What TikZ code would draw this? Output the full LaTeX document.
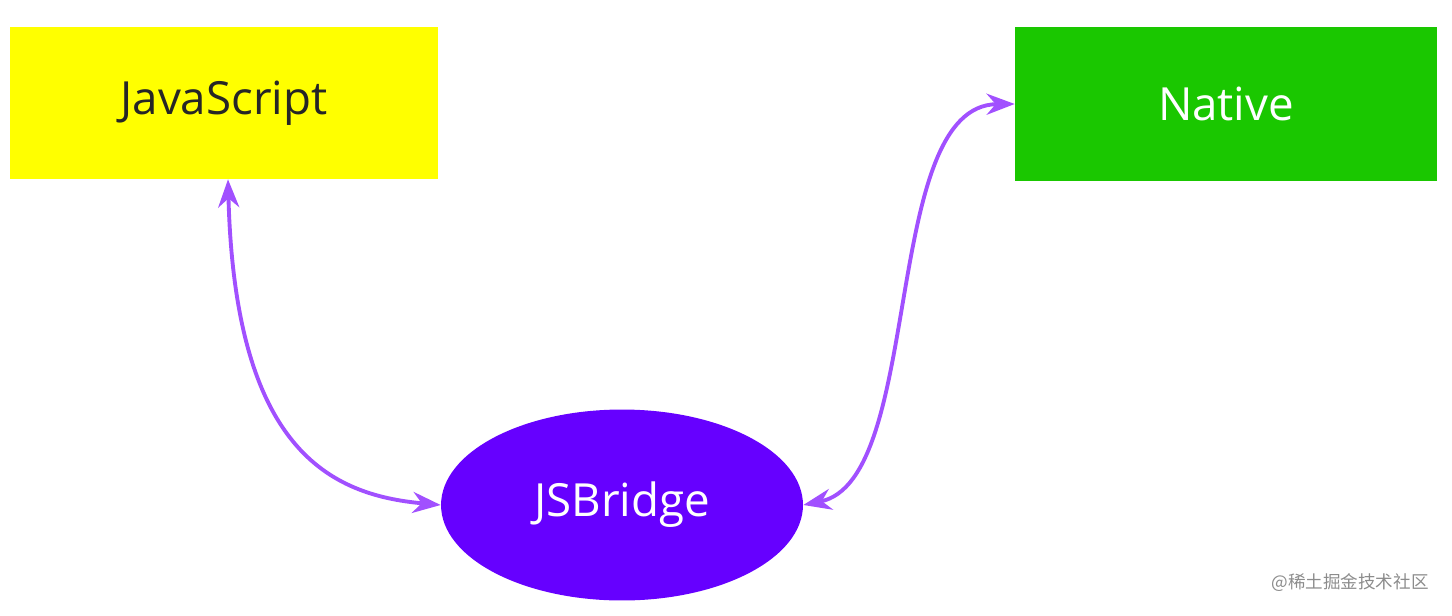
\documentclass[tikz,border=0pt]{standalone}
\usepackage{fontspec}
\setmainfont{Open Sans}
\newfontfamily\cjk{Noto Sans CJK SC}
\usetikzlibrary{arrows.meta,shapes.geometric}
\definecolor{jsyellow}{HTML}{FFFF00}
\definecolor{natgreen}{HTML}{1AC700}
\definecolor{bridgeviolet}{HTML}{6600FF}
\definecolor{linkpurple}{HTML}{A150FF}
\begin{document}
\begin{tikzpicture}[x=0.02cm,y=-0.02cm,
  box/.style={rectangle,inner sep=0pt,font=\fontsize{26}{30}\selectfont},
  link/.style={{Stealth[length=16pt,width=12pt]}-{Stealth[length=16pt,width=12pt]},linkpurple,line width=2.2pt}]
  \useasboundingbox (0,0) rectangle (1452,615);
  \node[box,fill=jsyellow,text=black!85,minimum width=8.56cm,minimum height=3.04cm] (js) at (224,103) {JavaScript};
  \node[box,fill=natgreen,text=white,minimum width=8.44cm,minimum height=3.1cm] (native) at (1226,104) {Native};
  \node[ellipse,fill=bridgeviolet,text=white,inner sep=0pt,minimum width=7.24cm,minimum height=3.82cm,font=\fontsize{26}{30}\selectfont] (bridge) at (622,505) {JSBridge};
  \node[text=black!45,font=\cjk\fontsize{10}{12}\selectfont] (mark) at (1350,583) {@稀土掘金技术社区};

  \draw[link] (js.south) ++(4,0) .. controls (235,450) and (330,495) .. (bridge.west);
  \draw[link] (bridge.east) .. controls (925,480) and (880,105) .. (native.west);
\end{tikzpicture}
\end{document}
